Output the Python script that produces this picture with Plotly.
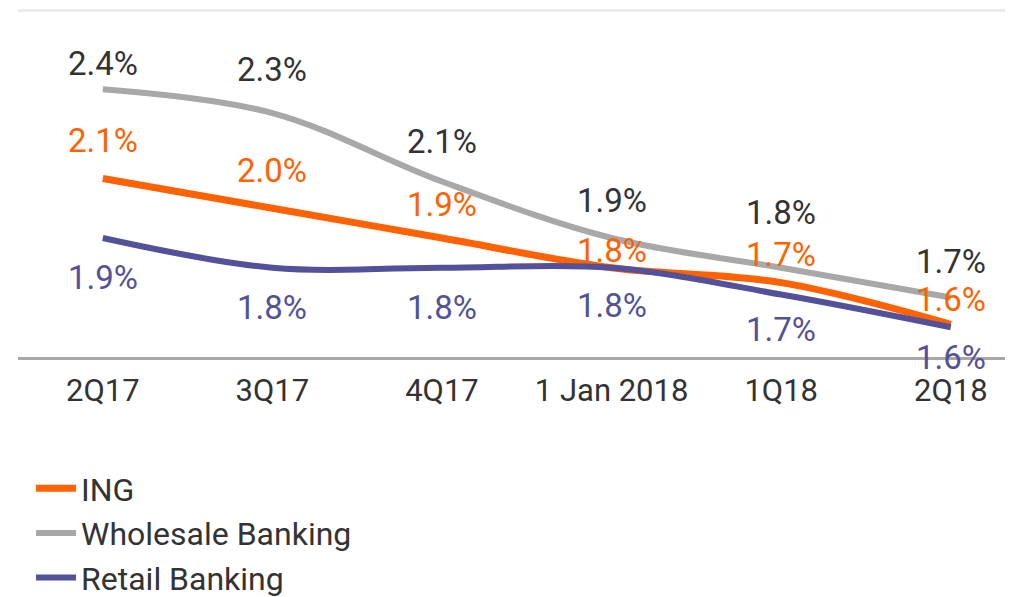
import plotly.graph_objects as go

# ---- data ----
categories = ["2Q17", "3Q17", "4Q17", "1 Jan 2018", "1Q18", "2Q18"]
ing = [2.10, 2.00, 1.90, 1.80, 1.75, 1.61]
wholesale = [2.40, 2.32, 2.09, 1.90, 1.80, 1.70]
retail = [1.90, 1.80, 1.80, 1.80, 1.71, 1.60]
ing_labels = ["2.1%", "2.0%", "1.9%", "1.8%", "1.7%", "1.6%"]
wholesale_labels = ["2.4%", "2.3%", "2.1%", "1.9%", "1.8%", "1.7%"]
retail_labels = ["1.9%", "1.8%", "1.8%", "1.8%", "1.7%", "1.6%"]

# ---- style ----
FONT = "Roboto"
ORANGE = "#FF6200"
GREY = "#A8A8A8"
PURPLE = "#525199"
TEXT = "#333333"
# pixel offsets of the value labels from their points (label placement style)
ing_label_shift = [38, 38, 34, 17, 28, 25]
wholesale_label_shift = [26, 44, 40, 38, 55, 36]
retail_label_shift = [-39, -40, -40, -38, -35, -30]

idx = list(range(len(categories)))

fig = go.Figure()
series = [
    ("ING", ing, ing_labels, ORANGE, 7, ORANGE, ing_label_shift),
    ("Wholesale Banking", wholesale, wholesale_labels, GREY, 6, TEXT, wholesale_label_shift),
    ("Retail Banking", retail, retail_labels, PURPLE, 6, PURPLE, retail_label_shift),
]
for name, vals, labs, col, w, tcol, shifts in series:
    fig.add_trace(go.Scatter(
        x=idx, y=vals, name=name, mode="lines",
        line=dict(color=col, width=w, shape="spline", smoothing=1.0),
        hoverinfo="skip",
    ))
    for i, v, t, s in zip(idx, vals, labs, shifts):
        fig.add_annotation(x=i, y=v, text=t, showarrow=False, yshift=s,
                           font=dict(family=FONT, size=33, color=tcol))

fig.update_layout(
    width=1013, height=597,
    margin=dict(l=10, r=0, t=1, b=248),
    paper_bgcolor="white", plot_bgcolor="white",
    font=dict(family=FONT, size=31, color=TEXT),
    showlegend=True,
    legend=dict(x=0.013, y=-0.3, xanchor="left", yanchor="top",
                font=dict(family=FONT, size=32, color=TEXT),
                tracegroupgap=0, itemwidth=40, bgcolor="rgba(0,0,0,0)"),
    xaxis=dict(range=[-0.5, 5.414], tickvals=idx, ticktext=categories,
               showgrid=False, zeroline=False, showline=True,
               linecolor=GREY, linewidth=3, ticks="outside", ticklen=4,
               tickcolor="rgba(0,0,0,0)", tickfont=dict(size=31, color=TEXT)),
    yaxis=dict(range=[1.5, 2.67], tickvals=[2.664], showticklabels=False,
               showgrid=True, gridcolor="#EBEBEB", gridwidth=3,
               zeroline=False, showline=False),
)

fig.write_html("out.html")
